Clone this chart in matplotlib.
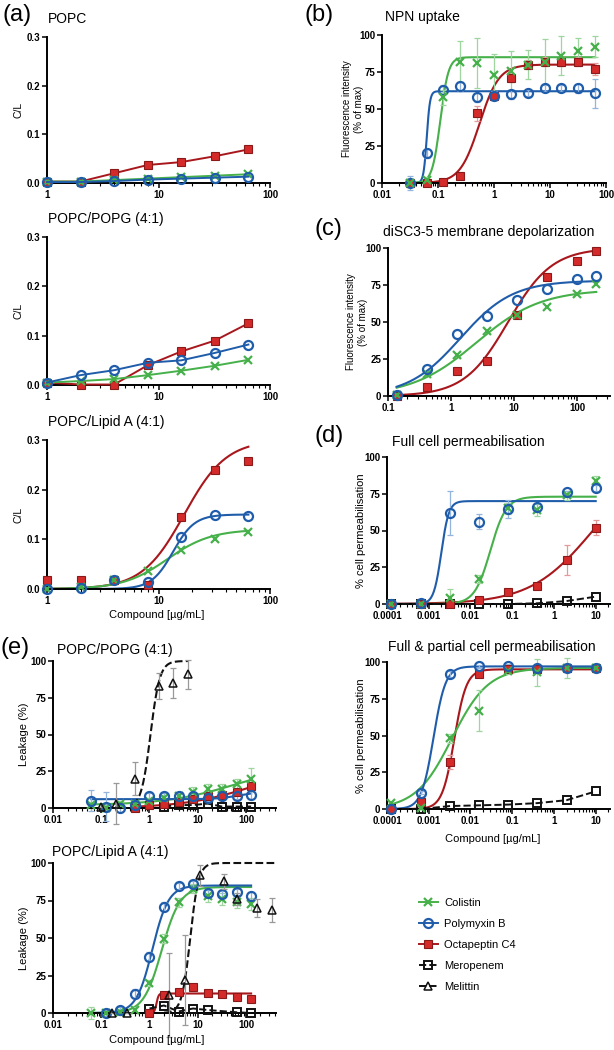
import numpy as np
import matplotlib
matplotlib.use("Agg")
import matplotlib.pyplot as plt
from matplotlib.lines import Line2D
from matplotlib.ticker import LogLocator, NullFormatter, FixedLocator, FixedFormatter

plt.rcParams['font.family'] = ['Liberation Sans', 'DejaVu Sans']

W, H = 614, 1050
nan = np.nan

GREEN = '#46b04a'
BLUE = '#1f5daa'
RED = '#d42a2a'
RED_EDGE = '#8a1a1a'
RED_LINE = '#a8171c'
BLACK = '#111111'

# ---------------- data ----------------
# (a) carboxyfluorescein binding, C/L
a_conc = [1, 2, 4, 8, 16, 32, 64]
a_popc_col = [0.003, 0.003, 0.006, 0.009, 0.012, 0.015, 0.018]
a_popc_pmb = [0.002, 0.002, 0.004, 0.007, 0.009, 0.011, 0.013]
a_popc_oct = [0.003, 0.003, 0.020, 0.037, 0.043, 0.055, 0.069]
a_popg_col = [0.005, 0.008, 0.012, 0.020, 0.029, 0.039, 0.051]
a_popg_pmb = [0.005, 0.020, 0.030, 0.045, 0.050, 0.065, 0.082]
a_popg_oct = [0.005, 0.001, 0.001, 0.040, 0.068, 0.090, 0.125]
a_lipa_col = [0.0, 0.005, 0.018, 0.037, 0.078, 0.101, 0.115]
a_lipa_pmb = [0.0, 0.002, 0.018, 0.015, 0.104, 0.148, 0.147]
a_lipa_oct = [0.018, 0.018, 0.018, 0.008, 0.144, 0.240, 0.258]
# Hill fit parameters (bottom, top, EC50, slope)
a_lipa_fit_col = (0, 0.12, 12, 2.2)
a_lipa_fit_pmb = (0, 0.15, 13.5, 4.5)
a_lipa_fit_oct = (0, 0.30, 17, 2.3)

# (b) NPN uptake
b_conc = [0.03125, 0.0625, 0.125, 0.25, 0.5, 1, 2, 4, 8, 16, 32, 64]
b_col = [0, 2, 58, 82, 81, 73, 76, 80, 82, 86, 89, 92]
b_col_err = [0, 2, 5, 14, 17, 14, 13, 10, 15, 13, 9, 7]
b_pmb = [0, 20, 63, 65.5, 58, 59, 60, 61, 64.5, 64.5, 64, 60.5]
b_pmb_err = [5, 3, 3, 3, 3, 3, 3, 2, 2, 2, 3, 10]
b_oct = [0, 0, 1, 5, 47, 59, 71, 80, 82, 82, 82, 77]
b_oct_err = [0, 0, 1, 2, 5, 3, 3, 3, 3, 3, 3, 4]
b_fit_col = (0, 85, 0.11, 6)
b_fit_pmb = (0, 62, 0.063, 15)
b_fit_oct = (0, 80, 0.55, 2.5)

# (c) diSC3-5 depolarization
c_conc = [0.137, 0.41, 1.23, 3.7, 11.1, 33.3, 100, 200]
c_col = [1, 15, 28, 44, 55, 60, 69, 76]
c_pmb = [1, 18.5, 42, 54, 65, 72, 79, 81]
c_oct = [0, 6, 17, 23.5, 55, 80.5, 91, 98]
c_fit_col = (0, 72, 2.5, 0.85)
c_fit_pmb = (0, 78, 1.4, 1.05)
c_fit_oct = (0, 100, 8, 1.25)

# (d) cell permeabilisation
d_conc = [0.000128, 0.00064, 0.0032, 0.016, 0.08, 0.4, 2, 10]
d_full_col = [0, 0, 4, 17, 65, 64, 74, 84]
d_full_col_err = [0, 0, 6, 3, 4, 4, 3, 3]
d_full_pmb = [0, 1, 62, 56, 64.5, 66, 76, 79]
d_full_pmb_err = [0, 0, 15, 5, 6, 3, 1, 2]
d_full_oct = [0, 0, 0, 3, 8, 12, 30, 52]
d_full_oct_err = [0, 0, 0, 1, 2, 2, 10, 5]
d_full_mer = [0, 0, 0, 0, 0, 0.5, 2, 5]
d_full_fit_col = (0, 73, 0.03, 2.3)
d_full_fit_pmb = (0, 70, 0.002, 4.8)
d_full_fit_oct = (0, 100, 8.6, 0.58)

d_part_col = [4, 1, 48, 67, 94, 93, 96, 96]
d_part_col_err = [1, 1, 3, 14, 2, 9, 7, 2]
d_part_pmb = [0, 11, 92, 97, 97.5, 96, 96, 96]
d_part_pmb_err = [0, 1, 2, 1, 1, 1, 1, 1]
d_part_oct = [0, 5, 32, 92, 95, 95, 96, 96]
d_part_oct_err = [0, 1, 5, 2, 1, 1, 1, 1]
d_part_mer = [0, 0, 2, 2.5, 3, 4, 6, 12]
d_part_fit_col = (0, 96, 0.0036, 1.0)
d_part_fit_pmb = (0, 97, 0.0013, 3.0)
d_part_fit_oct = (0, 95, 0.0041, 3.0)

# (e) leakage
e_conc = [0.0625, 0.125, 0.25, 0.5, 1, 2, 4, 8, 16, 32, 64, 128]
e_popg_col = [2, 0, 3, 3, 5, 7, 8, 11, 13, 13, 16, 20]
e_popg_col_err = [2, 2, 2, 2, 2, 2, 2, 3, 3, 3, 4, 7]
e_popg_pmb = [5, 1, 0, 2, 8, 8, 8, 8, 7, 8, 8, 9]
e_popg_pmb_err = [7, 10, 3, 3, 2, 2, 2, 2, 2, 2, 2, 3]
e_popg_oct = [nan, nan, nan, 0, 2, 3, 4, 6, 8, 9, 11, 15]
e_popg_mer = [nan, nan, nan, nan, nan, 1, 2, 2, 3, 1, 1, 1]
e_popg_mel_conc = [0.1, 0.2, 0.5, 1.56, 3.125, 6.25]
e_popg_mel = [1, 3, 20, 83, 85, 91]
e_popg_mel_err = [0, 14, 11, 9, 10, 10]
e_popg_fit_col = (2, 30, 60, 0.6)
e_popg_fit_pmb = (6, 11, 70, 2.0)
e_popg_fit_oct = (0, 30, 150, 0.6)
e_popg_fit_mel = (0, 100, 1.05, 4.5)

e_lipa_col = [0, 0, 1, 2, 20, 49.5, 74, 83, 78, 76, 74, 73]
e_lipa_col_err = [4, 2, 2, 2, 2, 3, 3, 3, 4, 4, 4, 4]
e_lipa_pmb = [nan, 0, 2, 13, 37.5, 71, 85, 86, 80, 79.5, 81, 78]
e_lipa_pmb_err = [0, 2, 2, 3, 3, 3, 2, 2, 2, 2, 2, 3]
e_lipa_oct = [nan, nan, nan, nan, 0, 12, 14, 17.5, 13.5, 12.5, 11, 9.5]
e_lipa_mer = [nan, nan, nan, nan, 3, 5, 1, 3, 2, nan, 0.5, 0]
e_lipa_mel_conc = [0.17, 0.34, 2.6, 5.4, 11, 35, 64, 167, 340]
e_lipa_mel = [0, 0, 12, 22, 92, 88, 76, 70, 69]
e_lipa_mel_err = [0, 0, 28, 30, 7, 5, 4, 6, 8]
e_lipa_fit_col = (0, 84, 1.8, 2.3)
e_lipa_fit_pmb = (0, 85, 1.15, 2.6)
e_lipa_fit_oct = (0, 13, 1.4, 20)
e_lipa_fit_mel = (0, 100, 7, 5)

legend_labels = ['Colistin', 'Polymyxin B', 'Octapeptin C4', 'Meropenem', 'Melittin']

# ---------------- styles ----------------
STY = {
    'col': dict(marker='x', mec=GREEN, mfc='none', ms=6, mew=1.6, color=GREEN, ecol='#9fd59f'),
    'pmb': dict(marker='o', mec=BLUE, mfc='none', ms=6.5, mew=1.6, color=BLUE, ecol='#93b4dc'),
    'oct': dict(marker='s', mec=RED_EDGE, mfc=RED, ms=5.5, mew=0.8, color=RED_LINE, ecol='#e59a9a'),
    'mer': dict(marker='s', mec=BLACK, mfc='none', ms=5.5, mew=1.4, color=BLACK, ecol='#888888'),
    'mel': dict(marker='^', mec=BLACK, mfc='none', ms=6, mew=1.1, color=BLACK, ecol='#999999'),
}


def hill(x, p):
    bottom, top, ec50, h = p
    return bottom + (top - bottom) / (1 + (ec50 / x) ** h)


def add_ax(x0, y0, x1, y1):
    return fig.add_axes([x0 / W, 1 - y1 / H, (x1 - x0) / W, (y1 - y0) / H])


def ftext(x, y, s, **kw):
    fig.text(x / W, 1 - y / H, s, **kw)


def style_ax(ax, xlim, xticks, xlabels, ylim, yticks, ylabels):
    ax.set_xscale('log')
    ax.set_xlim(*xlim)
    ax.set_ylim(*ylim)
    for s in ['top', 'right']:
        ax.spines[s].set_visible(False)
    for s in ['left', 'bottom']:
        ax.spines[s].set_linewidth(1.4)
        ax.spines[s].set_color('black')
    ax.xaxis.set_major_locator(FixedLocator(xticks))
    ax.xaxis.set_major_formatter(FixedFormatter(xlabels))
    ax.xaxis.set_minor_locator(LogLocator(base=10, subs=np.arange(2, 10), numticks=20))
    ax.xaxis.set_minor_formatter(NullFormatter())
    ax.set_yticks(yticks)
    ax.set_yticklabels(ylabels)
    ax.tick_params(which='major', length=3.5, width=1.1, labelsize=7, pad=1.5)
    ax.tick_params(which='minor', length=2, width=0.8)
    for lab in ax.get_xticklabels() + ax.get_yticklabels():
        lab.set_fontweight('bold')
    ax.patch.set_alpha(0)


def points(ax, x, y, key, line=False, dashed=False, err=None, z=3):
    st = STY[key]
    if err is not None:
        ax.errorbar(x, y, yerr=err, fmt='none', ecolor=st['ecol'], elinewidth=0.9,
                    capsize=2.2, capthick=0.9, zorder=z - 1, clip_on=False)
    ls = '--' if dashed else ('-' if line else 'none')
    ax.plot(x, y, linestyle=ls, lw=1.4, color=st['color'], marker=st['marker'],
            mfc=st['mfc'], mec=st['mec'], ms=st['ms'], mew=st['mew'], zorder=z, clip_on=False)


def curve(ax, x, p, key, dashed=False, xr=None):
    lo, hi = (min(x), max(x)) if xr is None else xr
    xs = np.logspace(np.log10(lo), np.log10(hi), 300)
    ax.plot(xs, hill(xs, p), color=STY[key]['color'], lw=1.5,
            ls='--' if dashed else '-', zorder=2, clip_on=False)


fig = plt.figure(figsize=(W / 100, H / 100), dpi=100)

# ---------------- (a) ----------------
a_rows = [(37, 183, 'POPC', a_popc_col, a_popc_pmb, a_popc_oct, None),
          (237, 385, 'POPC/POPG (4:1)', a_popg_col, a_popg_pmb, a_popg_oct, None),
          (440, 589, 'POPC/Lipid A (4:1)', a_lipa_col, a_lipa_pmb, a_lipa_oct,
           (a_lipa_fit_col, a_lipa_fit_pmb, a_lipa_fit_oct))]
for y0, y1, title, col, pmb, oct_, fits in a_rows:
    ax = add_ax(47, y0, 270, y1)
    style_ax(ax, (1, 100), [1, 10, 100], ['1', '10', '100'],
             (0, 0.3), [0, 0.1, 0.2, 0.3], ['0.0', '0.1', '0.2', '0.3'])
    if fits is None:
        points(ax, a_conc, oct_, 'oct', line=True)
        points(ax, a_conc, col, 'col', line=True)
        points(ax, a_conc, pmb, 'pmb', line=True)
    else:
        curve(ax, a_conc, fits[2], 'oct')
        curve(ax, a_conc, fits[0], 'col')
        curve(ax, a_conc, fits[1], 'pmb')
        points(ax, a_conc, oct_, 'oct')
        points(ax, a_conc, col, 'col')
        points(ax, a_conc, pmb, 'pmb')
    ftext(48, y0 - 18, title, fontsize=10, ha='left', va='center')
    ftext(18, (y0 + y1) / 2, 'C/L', fontsize=7.5, rotation=90, ha='center', va='center')
ftext(157, 615, 'Compound [\u00b5g/mL]', fontsize=8, ha='center', va='center')

# ---------------- (b) ----------------
ax = add_ax(382, 35, 606, 183)
style_ax(ax, (0.01, 100), [0.01, 0.1, 1, 10, 100], ['0.01', '0.1', '1', '10', '100'],
         (0, 100), [0, 25, 50, 75, 100], ['0', '25', '50', '75', '100'])
curve(ax, b_conc, b_fit_oct, 'oct')
curve(ax, b_conc, b_fit_pmb, 'pmb')
curve(ax, b_conc, b_fit_col, 'col')
points(ax, b_conc, b_oct, 'oct', err=b_oct_err)
points(ax, b_conc, b_pmb, 'pmb', err=b_pmb_err)
points(ax, b_conc, b_col, 'col', err=b_col_err)
ftext(385, 17, 'NPN uptake', fontsize=10, ha='left', va='center')
ftext(353, 109, 'Fluorescence intensity\n(% of max)', fontsize=7, rotation=90,
      ha='center', va='center', linespacing=1.25)

# ---------------- (c) ----------------
ax = add_ax(388, 248, 610, 396)
style_ax(ax, (0.1, 330), [0.1, 1, 10, 100], ['0.1', '1', '10', '100'],
         (0, 100), [0, 25, 50, 75, 100], ['0', '25', '50', '75', '100'])
curve(ax, c_conc, c_fit_oct, 'oct')
curve(ax, c_conc, c_fit_col, 'col')
curve(ax, c_conc, c_fit_pmb, 'pmb')
points(ax, c_conc, c_oct, 'oct')
points(ax, c_conc, c_col, 'col')
points(ax, c_conc, c_pmb, 'pmb')
ftext(383, 232, 'diSC3-5 membrane depolarization', fontsize=10, ha='left', va='center')
ftext(357, 322, 'Fluorescence intensity\n(% of max)', fontsize=7, rotation=90,
      ha='center', va='center', linespacing=1.25)

# ---------------- (d) ----------------
d_rows = [(457, 604, 'Full cell permeabilisation', 392,
           d_full_col, d_full_col_err, d_full_pmb, d_full_pmb_err, d_full_oct, d_full_oct_err,
           d_full_mer, (d_full_fit_col, d_full_fit_pmb, d_full_fit_oct)),
          (662, 809, 'Full & partial cell permeabilisation', 388,
           d_part_col, d_part_col_err, d_part_pmb, d_part_pmb_err, d_part_oct, d_part_oct_err,
           d_part_mer, (d_part_fit_col, d_part_fit_pmb, d_part_fit_oct))]
for (y0, y1, title, tx, col, col_e, pmb, pmb_e, oct_, oct_e, mer, fits) in d_rows:
    ax = add_ax(387, y0, 610, y1)
    style_ax(ax, (1e-4, 22), [1e-4, 1e-3, 0.01, 0.1, 1, 10],
             ['0.0001', '0.001', '0.01', '0.1', '1', '10'],
             (0, 100), [0, 25, 50, 75, 100], ['0', '25', '50', '75', '100'])
    points(ax, d_conc, mer, 'mer', dashed=True)
    curve(ax, d_conc, fits[2], 'oct')
    curve(ax, d_conc, fits[0], 'col')
    curve(ax, d_conc, fits[1], 'pmb')
    points(ax, d_conc, oct_, 'oct', err=oct_e)
    points(ax, d_conc, col, 'col', err=col_e)
    points(ax, d_conc, pmb, 'pmb', err=pmb_e)
    ftext(tx, y0 - 15, title, fontsize=10, ha='left', va='center')
    ftext(361, (y0 + y1) / 2, '% cell permeabilisation', fontsize=8, rotation=90,
          ha='center', va='center')
ftext(493, 839, 'Compound [\u00b5g/mL]', fontsize=8, ha='center', va='center')

# ---------------- (e) ----------------
e_rows = [(661, 808, 'POPC/POPG (4:1)', 57,
           e_popg_col, e_popg_col_err, e_popg_pmb, e_popg_pmb_err, e_popg_oct, e_popg_mer,
           e_popg_mel_conc, e_popg_mel, e_popg_mel_err,
           (e_popg_fit_col, e_popg_fit_pmb, e_popg_fit_oct, e_popg_fit_mel), (0.45, 6.25)),
          (863, 1013, 'POPC/Lipid A (4:1)', 52,
           e_lipa_col, e_lipa_col_err, e_lipa_pmb, e_lipa_pmb_err, e_lipa_oct, e_lipa_mer,
           e_lipa_mel_conc, e_lipa_mel, e_lipa_mel_err,
           (e_lipa_fit_col, e_lipa_fit_pmb, e_lipa_fit_oct, e_lipa_fit_mel), (2.0, 400))]
for (y0, y1, title, tx, col, col_e, pmb, pmb_e, oct_, mer, mel_x, mel, mel_e, fits, mel_rng) in e_rows:
    ax = add_ax(53, y0, 276, y1)
    style_ax(ax, (0.01, 420), [0.01, 0.1, 1, 10, 100], ['0.01', '0.1', '1', '10', '100'],
             (0, 100), [0, 25, 50, 75, 100], ['0', '25', '50', '75', '100'])
    oct_x = [c for c, v in zip(e_conc, oct_) if not np.isnan(v)]
    curve(ax, oct_x, fits[2], 'oct')
    curve(ax, e_conc, fits[0], 'col')
    curve(ax, e_conc, fits[1], 'pmb')
    curve(ax, mel_x, fits[3], 'mel', dashed=True, xr=mel_rng)
    mer_x = [c for c, v in zip(e_conc, mer) if not np.isnan(v)]
    mer_y = [v for v in mer if not np.isnan(v)]
    points(ax, mer_x, mer_y, 'mer', dashed=True)
    points(ax, e_conc, oct_, 'oct')
    points(ax, e_conc, col, 'col', err=col_e)
    points(ax, e_conc, pmb, 'pmb', err=pmb_e)
    points(ax, mel_x, mel, 'mel', err=mel_e, z=4)
    ftext(tx, y0 - 11, title, fontsize=10, ha='left', va='center')
    ftext(24, (y0 + y1) / 2, 'Leakage (%)', fontsize=8, rotation=90, ha='center', va='center')
ftext(157, 1040, 'Compound [\u00b5g/mL]', fontsize=8, ha='center', va='center')

# panel letters
ftext(2, 15, '(a)', fontsize=17, ha='left', va='center')
ftext(304, 15, '(b)', fontsize=17, ha='left', va='center')
ftext(314, 229, '(c)', fontsize=17, ha='left', va='center')
ftext(315, 436, '(d)', fontsize=17, ha='left', va='center')
ftext(0, 648, '(e)', fontsize=17, ha='left', va='center')

# legend
handles = []
for key in ['col', 'pmb', 'oct', 'mer', 'mel']:
    st = STY[key]
    handles.append(Line2D([], [], color=st['color'], lw=1.4,
                          ls='--' if key in ('mer', 'mel') else '-',
                          marker=st['marker'], mfc=st['mfc'], mec=st['mec'],
                          ms=st['ms'], mew=st['mew']))
fig.legend(handles, legend_labels, loc='upper left', bbox_to_anchor=(410 / W, 1 - 889 / H),
           frameon=False, fontsize=8, handlelength=1.7, handletextpad=0.6, labelspacing=1.0,
           borderpad=0.3)

fig.savefig('out.png', dpi=100)
